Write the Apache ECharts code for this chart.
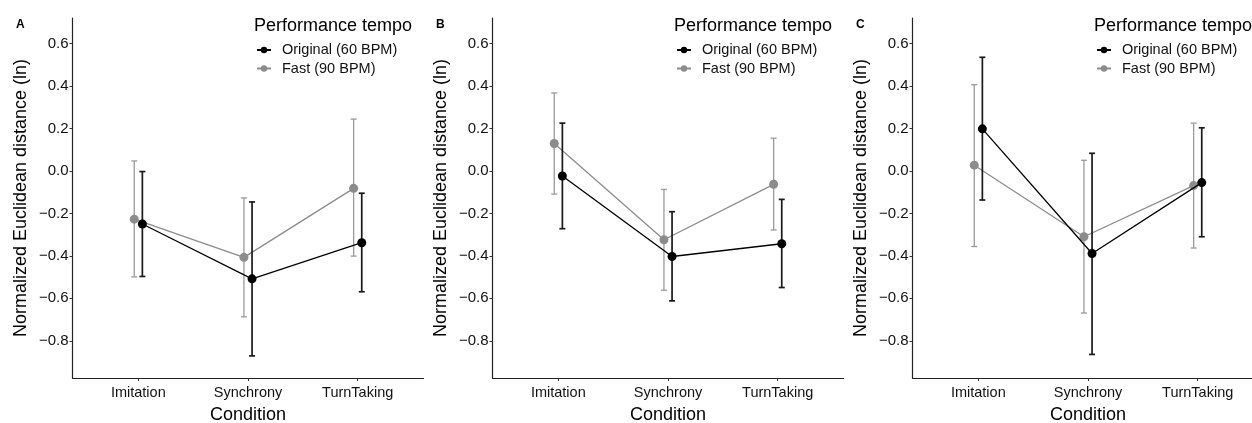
<!DOCTYPE html>
<html>
<head>
<meta charset="utf-8">
<script src="https://cdn.jsdelivr.net/npm/echarts@6/dist/echarts.min.js"></script>
<style>html,body{margin:0;padding:0;background:#fff;overflow:hidden}#c{width:1252px;height:423px}</style>
</head>
<body>
<div id="c"></div>
<script>
const categories = ['Imitation', 'Synchrony', 'TurnTaking'];
const panelLabels = ['A', 'B', 'C'];
const yTicks = [-0.8, -0.6, -0.4, -0.2, 0.0, 0.2, 0.4, 0.6];
const seriesNames = ['Original (60 BPM)', 'Fast (90 BPM)'];

// Panel A
const origMeanA = [-0.250, -0.508, -0.338];
const origLowA  = [-0.497, -0.871, -0.569];
const origHighA = [-0.003, -0.146, -0.105];
const fastMeanA = [-0.227, -0.407, -0.082];
const fastLowA  = [-0.499, -0.687, -0.401];
const fastHighA = [ 0.047, -0.127,  0.244];
// Panel B
const origMeanB = [-0.024, -0.403, -0.343];
const origLowB  = [-0.272, -0.612, -0.549];
const origHighB = [ 0.225, -0.192, -0.134];
const fastMeanB = [ 0.129, -0.324, -0.063];
const fastLowB  = [-0.109, -0.562, -0.278];
const fastHighB = [ 0.367, -0.087,  0.154];
// Panel C
const origMeanC = [ 0.198, -0.389, -0.055];
const origLowC  = [-0.137, -0.864, -0.310];
const origHighC = [ 0.535,  0.083,  0.203];
const fastMeanC = [ 0.027, -0.310, -0.069];
const fastLowC  = [-0.356, -0.669, -0.363];
const fastHighC = [ 0.406,  0.050,  0.225];

const panels = [
  {orig: [origMeanA, origLowA, origHighA], fast: [fastMeanA, fastLowA, fastHighA]},
  {orig: [origMeanB, origLowB, origHighB], fast: [fastMeanB, fastLowB, fastHighB]},
  {orig: [origMeanC, origLowC, origHighC], fast: [fastMeanC, fastLowC, fastHighC]}
];

const BLACK = '#000000', GRAY = '#8c8c8c';
const FONT = '"Liberation Sans", Arial, sans-serif';
const dodge = 0.037;
const panelOffsets = [0, 420, 840];

const chart = echarts.init(document.getElementById('c'), null, {renderer: 'canvas', width: 1252, height: 423});

const grids = [], xAxes = [], yAxes = [], series = [], titles = [], legends = [];

function errRender(color, width) {
  return function (params, api) {
    const x = api.value(0);
    const top = api.coord([x, api.value(2)]);
    const bot = api.coord([x, api.value(1)]);
    const hw = 3;
    const st = {stroke: color, lineWidth: width};
    return {type: 'group', children: [
      {type: 'line', shape: {x1: top[0], y1: top[1], x2: bot[0], y2: bot[1]}, style: st},
      {type: 'line', shape: {x1: top[0]-hw, y1: top[1], x2: top[0]+hw, y2: top[1]}, style: st},
      {type: 'line', shape: {x1: bot[0]-hw, y1: bot[1], x2: bot[0]+hw, y2: bot[1]}, style: st}
    ]};
  };
}

panels.forEach((p, i) => {
  const off = panelOffsets[i];
  const gl = off + 72.5;
  grids.push({left: gl, width: 351, top: 18, height: 360, containLabel: false, outerBoundsMode: 'none'});
  xAxes.push({
    type: 'value', gridIndex: i, min: 0.4, max: 3.6,
    name: 'Condition', nameLocation: 'middle', nameGap: 28,
    nameTextStyle: {fontFamily: FONT, fontSize: 18, color: '#000'},
    axisLine: {show: true, onZero: false, lineStyle: {color: '#222', width: 1.2}},
    axisTick: {show: true, length: 3, lineStyle: {color: '#333'}, customValues: [1, 2, 3]},
    axisLabel: {customValues: [1, 2, 3], margin: 7, fontFamily: FONT, fontSize: 14.5, color: '#111',
      formatter: v => categories[Math.round(v) - 1] || ''},
    splitLine: {show: false}
  });
  yAxes.push({
    type: 'value', gridIndex: i, min: -0.975, max: 0.72,
    name: 'Normalized Euclidean distance (ln)', nameLocation: 'middle', nameGap: 42,
    nameTextStyle: {fontFamily: FONT, fontSize: 18, color: '#000'},
    axisLine: {show: true, onZero: false, lineStyle: {color: '#222', width: 1.2}},
    axisTick: {show: true, length: 3, lineStyle: {color: '#333'}, customValues: yTicks},
    axisLabel: {customValues: yTicks, margin: 4, fontFamily: FONT, fontSize: 15, color: '#111',
      formatter: v => (v < -1e-9 ? '\u2212' : '') + Math.abs(v).toFixed(1)},
    splitLine: {show: false}
  });
  titles.push({text: panelLabels[i], left: off + 11, top: 14,
    textStyle: {fontFamily: FONT, fontSize: 12, fontWeight: 'bold', color: '#000'}});
  titles.push({text: 'Performance tempo', left: off + 249, top: 12,
    textStyle: {fontFamily: FONT, fontSize: 18, fontWeight: 'normal', color: '#000'}});
  legends.push({
    data: seriesNames, orient: 'vertical', left: off + 256, top: 42, padding: 0,
    itemWidth: 14, itemHeight: 8, itemGap: 2.5, selectedMode: false,
    textStyle: {fontFamily: FONT, fontSize: 14.5, color: '#111', lineHeight: 16, padding: [0, 0, 0, 6]}
  });

  const fastPts = categories.map((c, k) => [k + 1 - dodge, p.fast[0][k]]);
  const fastErr = categories.map((c, k) => [k + 1 - dodge, p.fast[1][k], p.fast[2][k]]);
  const origPts = categories.map((c, k) => [k + 1 + dodge, p.orig[0][k]]);
  const origErr = categories.map((c, k) => [k + 1 + dodge, p.orig[1][k], p.orig[2][k]]);

  series.push({type: 'custom', name: 'fastErr' + i, xAxisIndex: i, yAxisIndex: i, z: 2,
    renderItem: errRender('#9a9a9a', 1.3), data: fastErr, encode: {x: 0, y: [1, 2]}, silent: true});
  series.push({type: 'line', name: seriesNames[1], xAxisIndex: i, yAxisIndex: i, z: 3,
    data: fastPts, symbol: 'circle', symbolSize: 9, color: GRAY,
    lineStyle: {color: GRAY, width: 1.3}, itemStyle: {color: GRAY}, animation: false});
  series.push({type: 'custom', name: 'origErr' + i, xAxisIndex: i, yAxisIndex: i, z: 4,
    renderItem: errRender('#1a1a1a', 1.7), data: origErr, encode: {x: 0, y: [1, 2]}, silent: true});
  series.push({type: 'line', name: seriesNames[0], xAxisIndex: i, yAxisIndex: i, z: 5,
    data: origPts, symbol: 'circle', symbolSize: 9, color: BLACK,
    lineStyle: {color: BLACK, width: 1.3}, itemStyle: {color: BLACK}, animation: false});
});

chart.setOption({
  animation: false,
  backgroundColor: '#ffffff',
  title: titles,
  legend: legends,
  grid: grids,
  xAxis: xAxes,
  yAxis: yAxes,
  series: series
});
</script>
</body>
</html>
